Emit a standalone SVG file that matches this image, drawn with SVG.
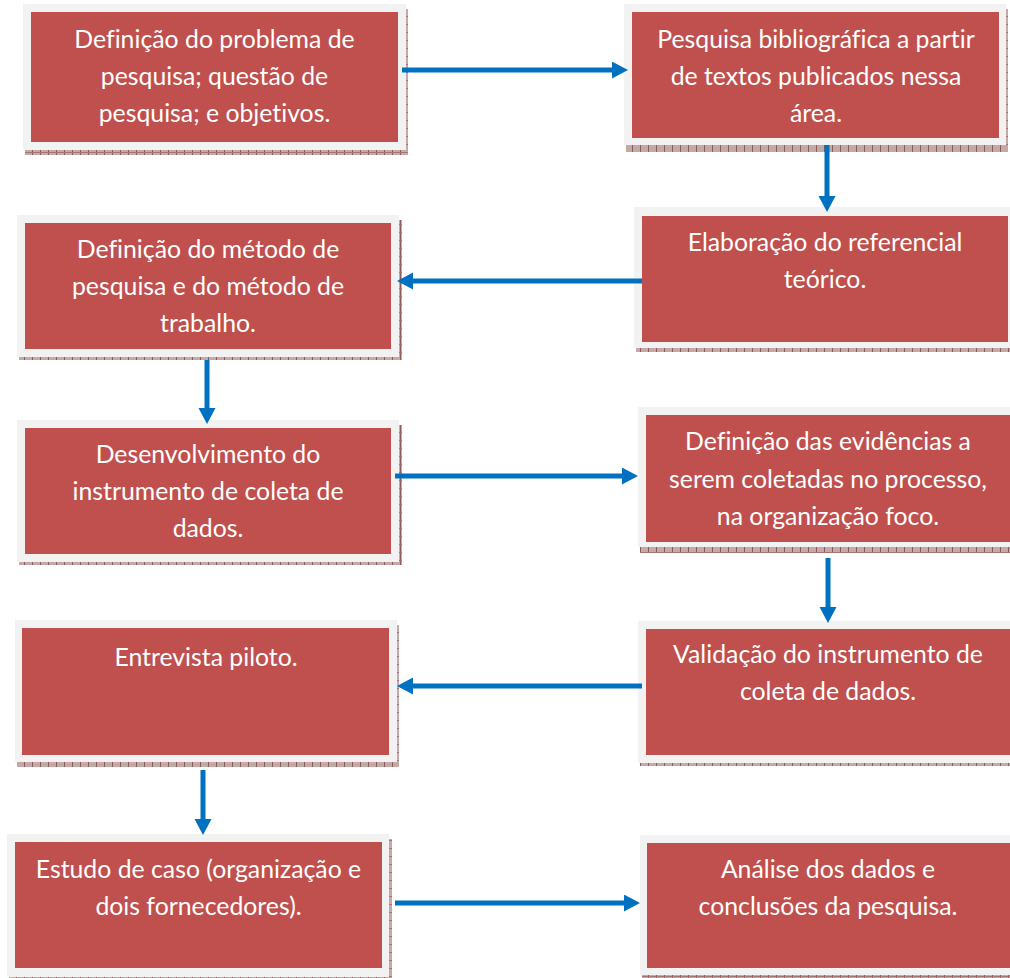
<svg xmlns="http://www.w3.org/2000/svg" width="1010" height="978" viewBox="0 0 1010 978">
  <defs>
    <style>
      .frame { fill: #f2f2f2; }
      .box { fill: #c0504d; }
      .shadow { fill: url(#hatch); }
      .label { font-family: "Lato", "Liberation Sans", sans-serif; font-size: 24.8px; fill: #ffffff; text-anchor: middle; font-variant-ligatures: none; }
      .conn { stroke: #0070c0; stroke-width: 5; fill: none; marker-end: url(#head); }
    </style>
    <pattern id="hatch" width="8" height="8" patternUnits="userSpaceOnUse">
      <rect width="8" height="8" fill="#c4a9a9"/>
      <rect x="0" y="0" width="1" height="8" fill="#915858"/>
      <rect x="0" y="0" width="8" height="1" fill="#a77272"/>
    </pattern>
    <marker id="head" markerUnits="userSpaceOnUse" markerWidth="18" markerHeight="18" refX="6" refY="8.5" orient="auto">
      <path d="M0,0 L16,8.5 L0,17 z" fill="#0070c0"/>
    </marker>
  </defs>

  <rect width="1010" height="978" fill="#ffffff"/>

  <!-- step 1 -->
  <g id="node-problema">
    <rect class="shadow" x="25" y="9" width="383" height="146"/>
    <rect class="frame" x="23" y="4" width="383" height="146"/>
    <rect class="box" x="31" y="12" width="367" height="130"/>
    <text class="label" x="214.5" y="48">Definição do problema de</text>
    <text class="label" x="214.5" y="85">pesquisa; questão de</text>
    <text class="label" x="214.5" y="122">pesquisa; e objetivos.</text>
  </g>

  <!-- step 2 -->
  <g id="node-bibliografica">
    <rect class="shadow" x="626" y="9" width="382" height="143"/>
    <rect class="frame" x="624" y="4" width="382" height="141"/>
    <rect class="box" x="632" y="12" width="367" height="126"/>
    <text class="label" x="816" y="48">Pesquisa bibliográfica a partir</text>
    <text class="label" x="816" y="85">de textos publicados nessa</text>
    <text class="label" x="816" y="122">área.</text>
  </g>

  <!-- step 3 -->
  <g id="node-referencial">
    <rect class="shadow" x="636" y="212" width="380" height="140"/>
    <rect class="frame" x="634" y="207" width="380" height="141"/>
    <rect class="box" x="642" y="216" width="366" height="126"/>
    <text class="label" x="825" y="251">Elaboração do referencial</text>
    <text class="label" x="825" y="288">teórico.</text>
  </g>

  <!-- step 4 -->
  <g id="node-metodo">
    <rect class="shadow" x="19" y="220" width="383" height="140"/>
    <rect class="frame" x="17" y="215" width="382" height="142"/>
    <rect class="box" x="25" y="223" width="366" height="126"/>
    <text class="label" x="208" y="258">Definição do método de</text>
    <text class="label" x="208" y="295">pesquisa e do método de</text>
    <text class="label" x="208" y="332">trabalho.</text>
  </g>

  <!-- step 5 -->
  <g id="node-instrumento">
    <rect class="shadow" x="19" y="425" width="383" height="140"/>
    <rect class="frame" x="17" y="420" width="382" height="142"/>
    <rect class="box" x="25" y="428" width="366" height="126"/>
    <text class="label" x="208" y="463">Desenvolvimento do</text>
    <text class="label" x="208" y="500">instrumento de coleta de</text>
    <text class="label" x="208" y="537">dados.</text>
  </g>

  <!-- step 6 -->
  <g id="node-evidencias">
    <rect class="shadow" x="640" y="412" width="380" height="141"/>
    <rect class="frame" x="638" y="407" width="380" height="140"/>
    <rect class="box" x="646" y="415" width="366" height="127"/>
    <text class="label" x="828" y="450">Definição das evidências a</text>
    <text class="label" x="828" y="488">serem coletadas no processo,</text>
    <text class="label" x="828" y="525">na organização foco.</text>
  </g>

  <!-- step 7 -->
  <g id="node-validacao">
    <rect class="shadow" x="640" y="626" width="380" height="140"/>
    <rect class="frame" x="638" y="621" width="380" height="142"/>
    <rect class="box" x="646" y="629" width="366" height="126"/>
    <text class="label" x="828" y="663">Validação do instrumento de</text>
    <text class="label" x="828" y="700">coleta de dados.</text>
  </g>

  <!-- step 8 -->
  <g id="node-entrevista">
    <rect class="shadow" x="17" y="625" width="382" height="142"/>
    <rect class="frame" x="15" y="620" width="382" height="142"/>
    <rect class="box" x="22" y="628" width="367" height="127"/>
    <text class="label" x="206" y="666">Entrevista piloto.</text>
  </g>

  <!-- step 9 -->
  <g id="node-estudo">
    <rect class="shadow" x="9" y="839" width="383" height="142"/>
    <rect class="frame" x="7" y="834" width="382" height="143"/>
    <rect class="box" x="15" y="842" width="367" height="126"/>
    <text class="label" x="198.5" y="878">Estudo de caso (organização e</text>
    <text class="label" x="198.5" y="915">dois fornecedores).</text>
  </g>

  <!-- step 10 -->
  <g id="node-analise">
    <rect class="shadow" x="642" y="840" width="380" height="140"/>
    <rect class="frame" x="640" y="835" width="380" height="140"/>
    <rect class="box" x="647" y="843" width="366" height="125"/>
    <text class="label" x="828" y="878">Análise dos dados e</text>
    <text class="label" x="828" y="915">conclusões da pesquisa.</text>
  </g>

  <!-- connectors, drawn over the box frames -->
  <g id="connectors">
    <line class="conn" x1="402" y1="70" x2="618" y2="70"/>
    <line class="conn" x1="827" y1="145" x2="827" y2="202"/>
    <line class="conn" x1="642" y1="281" x2="407" y2="281"/>
    <line class="conn" x1="207" y1="360" x2="207" y2="414"/>
    <line class="conn" x1="395" y1="476" x2="628" y2="476"/>
    <line class="conn" x1="828" y1="558" x2="828" y2="613"/>
    <line class="conn" x1="642" y1="686" x2="407" y2="686"/>
    <line class="conn" x1="203" y1="770" x2="203" y2="825"/>
    <line class="conn" x1="395" y1="903" x2="630" y2="903"/>
  </g>
</svg>
